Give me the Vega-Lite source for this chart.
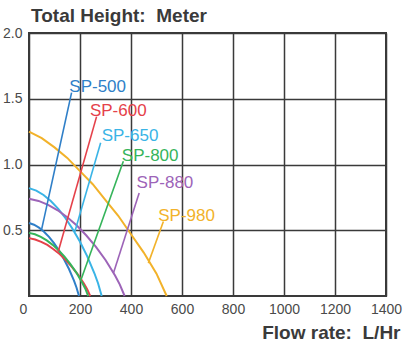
{
  "$schema": "https://vega.github.io/schema/vega-lite/v6.json",
  "autosize": "none",
  "width": 357,
  "height": 263,
  "padding": {"left": 29, "top": 33, "right": 22, "bottom": 49},
  "background": "white",
  "config": {
    "view": {"stroke": "#3a3a3a", "strokeWidth": 2},
    "font": "Liberation Sans"
  },
  "title": {
    "text": "Total Height:\u00a0 Meter",
    "anchor": "start",
    "frame": "group",
    "fontSize": 19,
    "fontWeight": "bold",
    "color": "#3a3a3a",
    "font": "Liberation Sans",
    "baseline": "bottom",
    "offset": 0,
    "dy": 19,
    "dx": 2
  },
  "datasets": {
    "curves": [
      {"s": "SP-500", "x": 0, "y": 0.555}, {"s": "SP-500", "x": 19.6, "y": 0.542}, {"s": "SP-500", "x": 39.2, "y": 0.52}, {"s": "SP-500", "x": 58.8, "y": 0.489}, {"s": "SP-500", "x": 78.4, "y": 0.45}, {"s": "SP-500", "x": 98, "y": 0.402}, {"s": "SP-500", "x": 117.6, "y": 0.345}, {"s": "SP-500", "x": 137.2, "y": 0.28}, {"s": "SP-500", "x": 156.8, "y": 0.205}, {"s": "SP-500", "x": 176.4, "y": 0.117}, {"s": "SP-500", "x": 186.2, "y": 0.065}, {"s": "SP-500", "x": 196, "y": 0},
      {"s": "SP-600", "x": 0, "y": 0.44}, {"s": "SP-600", "x": 24, "y": 0.43}, {"s": "SP-600", "x": 48, "y": 0.412}, {"s": "SP-600", "x": 72, "y": 0.388}, {"s": "SP-600", "x": 96, "y": 0.356}, {"s": "SP-600", "x": 120, "y": 0.319}, {"s": "SP-600", "x": 144, "y": 0.274}, {"s": "SP-600", "x": 168, "y": 0.222}, {"s": "SP-600", "x": 192, "y": 0.163}, {"s": "SP-600", "x": 216, "y": 0.093}, {"s": "SP-600", "x": 228, "y": 0.052}, {"s": "SP-600", "x": 240, "y": 0},
      {"s": "SP-650", "x": 0, "y": 0.82}, {"s": "SP-650", "x": 28.5, "y": 0.801}, {"s": "SP-650", "x": 57, "y": 0.768}, {"s": "SP-650", "x": 85.5, "y": 0.722}, {"s": "SP-650", "x": 114, "y": 0.664}, {"s": "SP-650", "x": 142.5, "y": 0.594}, {"s": "SP-650", "x": 171, "y": 0.51}, {"s": "SP-650", "x": 199.5, "y": 0.414}, {"s": "SP-650", "x": 228, "y": 0.303}, {"s": "SP-650", "x": 256.5, "y": 0.173}, {"s": "SP-650", "x": 270.75, "y": 0.097}, {"s": "SP-650", "x": 285, "y": 0},
      {"s": "SP-800", "x": 0, "y": 0.48}, {"s": "SP-800", "x": 23.2, "y": 0.469}, {"s": "SP-800", "x": 46.4, "y": 0.45}, {"s": "SP-800", "x": 69.6, "y": 0.423}, {"s": "SP-800", "x": 92.8, "y": 0.389}, {"s": "SP-800", "x": 116, "y": 0.348}, {"s": "SP-800", "x": 139.2, "y": 0.299}, {"s": "SP-800", "x": 162.4, "y": 0.242}, {"s": "SP-800", "x": 185.6, "y": 0.178}, {"s": "SP-800", "x": 208.8, "y": 0.101}, {"s": "SP-800", "x": 220.4, "y": 0.057}, {"s": "SP-800", "x": 232, "y": 0},
      {"s": "SP-880", "x": 0, "y": 0.74}, {"s": "SP-880", "x": 37.5, "y": 0.723}, {"s": "SP-880", "x": 75, "y": 0.693}, {"s": "SP-880", "x": 112.5, "y": 0.652}, {"s": "SP-880", "x": 150, "y": 0.599}, {"s": "SP-880", "x": 187.5, "y": 0.536}, {"s": "SP-880", "x": 225, "y": 0.46}, {"s": "SP-880", "x": 262.5, "y": 0.374}, {"s": "SP-880", "x": 300, "y": 0.274}, {"s": "SP-880", "x": 337.5, "y": 0.156}, {"s": "SP-880", "x": 356.25, "y": 0.087}, {"s": "SP-880", "x": 375, "y": 0},
      {"s": "SP-980", "x": 0, "y": 1.25}, {"s": "SP-980", "x": 50, "y": 1.2}, {"s": "SP-980", "x": 100, "y": 1.13}, {"s": "SP-980", "x": 150, "y": 1.05}, {"s": "SP-980", "x": 200, "y": 0.95}, {"s": "SP-980", "x": 250, "y": 0.85}, {"s": "SP-980", "x": 300, "y": 0.73}, {"s": "SP-980", "x": 350, "y": 0.61}, {"s": "SP-980", "x": 400, "y": 0.47}, {"s": "SP-980", "x": 450, "y": 0.33}, {"s": "SP-980", "x": 500, "y": 0.17}, {"s": "SP-980", "x": 540, "y": 0}
    ],
    "labels": [
      {"s": "SP-500", "lx": 158, "ly": 1.55, "x1": 167, "y1": 1.547, "x2": 50, "y2": 0.51},
      {"s": "SP-600", "lx": 239, "ly": 1.37, "x1": 265, "y1": 1.364, "x2": 115, "y2": 0.34},
      {"s": "SP-650", "lx": 285, "ly": 1.18, "x1": 281, "y1": 1.166, "x2": 180, "y2": 0.49},
      {"s": "SP-800", "lx": 364, "ly": 1.025, "x1": 370, "y1": 1.025, "x2": 205, "y2": 0.13},
      {"s": "SP-880", "lx": 422, "ly": 0.82, "x1": 432, "y1": 0.784, "x2": 331, "y2": 0.173},
      {"s": "SP-980", "lx": 507, "ly": 0.57, "x1": 527, "y1": 0.567, "x2": 468, "y2": 0.25}
    ]
  },
  "layer": [
    {
      "data": {"name": "curves"},
      "mark": {"type": "line", "strokeWidth": 2},
      "encoding": {
        "x": {
          "field": "x", "type": "quantitative",
          "scale": {"domain": [0, 1400], "nice": false},
          "axis": {
            "values": [0, 200, 400, 600, 800, 1000, 1200, 1400],
            "format": "d",
            "grid": true, "gridColor": "#3a3a3a", "gridWidth": 1.5, "gridOpacity": 1,
            "domain": false, "ticks": false,
            "labelFlush": false, "labelOverlap": false,
            "labelOffset": {"condition": {"test": "datum.value === 0", "value": -6}, "value": 0},
            "labelFontSize": 14, "labelColor": "#4a4a4a", "labelPadding": 6,
            "title": "Flow rate:\u00a0 L/Hr",
            "titleFontSize": 19, "titleFontWeight": "bold", "titleColor": "#3a3a3a",
            "titleAnchor": "end", "titleAlign": "right", "titleBaseline": "alphabetic",
            "titleX": 371, "titleY": 42
          }
        },
        "y": {
          "field": "y", "type": "quantitative",
          "scale": {"domain": [0, 2], "nice": false},
          "axis": {
            "values": [0.5, 1, 1.5, 2],
            "format": ".1f",
            "grid": true, "gridColor": "#3a3a3a", "gridWidth": 1.5, "gridOpacity": 1,
            "domain": false, "ticks": false, "labelFlush": false,
            "labelFontSize": 14, "labelColor": "#4a4a4a", "labelPadding": 7,
            "title": null
          }
        },
        "color": {
          "field": "s", "type": "nominal",
          "scale": {
            "domain": ["SP-500", "SP-600", "SP-650", "SP-800", "SP-880", "SP-980"],
            "range": ["#2f7fc8", "#e5414a", "#3ab4e6", "#35b45a", "#9d64b8", "#f2b22a"]
          },
          "legend": null
        }
      }
    },
    {
      "data": {"name": "labels"},
      "mark": {"type": "rule", "strokeWidth": 1.6},
      "encoding": {
        "x": {"field": "x1", "type": "quantitative"},
        "y": {"field": "y1", "type": "quantitative"},
        "x2": {"field": "x2"},
        "y2": {"field": "y2"},
        "color": {"field": "s", "type": "nominal", "legend": null}
      }
    },
    {
      "data": {"name": "labels"},
      "mark": {"type": "text", "align": "left", "baseline": "alphabetic", "fontSize": 17, "font": "Liberation Sans"},
      "encoding": {
        "x": {"field": "lx", "type": "quantitative"},
        "y": {"field": "ly", "type": "quantitative"},
        "text": {"field": "s"},
        "color": {"field": "s", "type": "nominal", "legend": null}
      }
    }
  ]
}
